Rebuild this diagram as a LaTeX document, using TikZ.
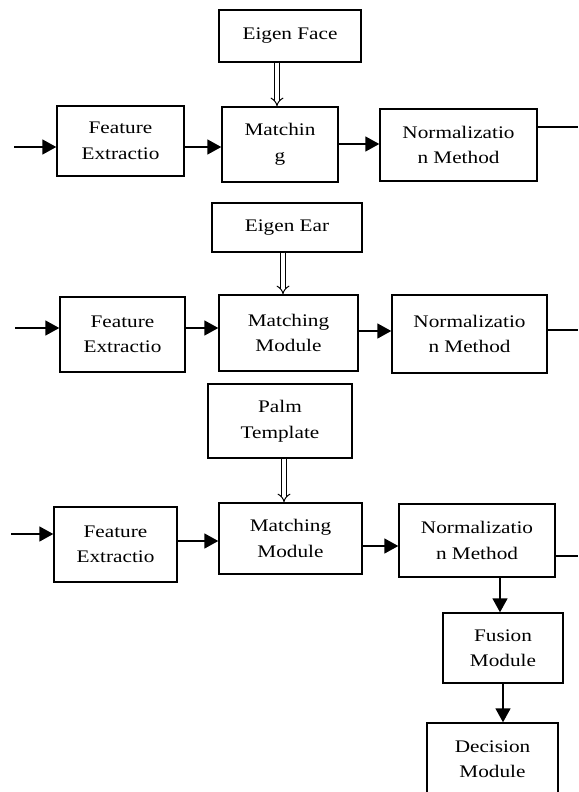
\documentclass[tikz,border=0pt]{standalone}
\usepackage{fontspec}
\setmainfont{Liberation Serif}[FakeStretch=1.2]
\usepackage{tikz}
\usetikzlibrary{arrows.meta}
\tikzstyle{block}=[draw=black, line width=1.4pt, inner sep=0pt, align=center, font=\fontsize{17.7}{25.5}\selectfont]
\tikzstyle{arrow}=[draw=black, line width=1.6pt, >={Triangle[length=14pt, width=15pt]}]
\tikzstyle{dblarrow}=[draw=black, line width=1pt, double=white, double distance=3.5pt, -{Implies}]

\begin{document}
\begin{tikzpicture}[x=1pt, y=-1pt]
		   \useasboundingbox (0,0) rectangle (578,792);
		   \begin{scope}
			   % face
			   \node (ef) at (290, 36)[block, minimum width=142pt, minimum height=52pt] {Eigen Face};
			   \node (fe1) at (120.5, 141)[block, minimum width=127pt, minimum height=70pt] {Feature\\Extractio};
			   \node (m1) at (280, 144.5)[block, minimum width=116pt, minimum height=75pt] {Matchin\\g};
			   \node (n1) at (458.5, 145)[block, minimum width=157pt, minimum height=72pt] {Normalizatio\\n Method};
			   \coordinate (in1) at (14, 147);
			   \coordinate (out1) at (578, 127);
			   % ear
			   \node (ee) at (287, 227.5)[block, minimum width=150pt, minimum height=49pt] {Eigen Ear};
			   \node (fe2) at (122.5, 334.5)[block, minimum width=125pt, minimum height=75pt] {Feature\\Extractio};
			   \node (m2) at (288.5, 333)[block, minimum width=139pt, minimum height=76pt] {Matching\\Module};
			   \node (n2) at (469.5, 334)[block, minimum width=155pt, minimum height=78pt] {Normalizatio\\n Method};
			   \coordinate (in2) at (15, 328);
			   \coordinate (out2) at (578, 330);
			   % palm
			   \node (pt) at (280, 421)[block, minimum width=144pt, minimum height=74pt] {Palm\\Template};
			   \node (fe3) at (115.5, 544.5)[block, minimum width=123pt, minimum height=75pt] {Feature\\Extractio};
			   \node (m3) at (290.5, 538.5)[block, minimum width=143pt, minimum height=71pt] {Matching\\Module};
			   \node (n3) at (477, 540.5)[block, minimum width=156pt, minimum height=73pt] {Normalizatio\\n Method};
			   \coordinate (in3) at (11, 534);
			   \coordinate (out3) at (578, 556);
			   % fusion and decision
			   \node (fu) at (503, 648)[block, minimum width=120pt, minimum height=70pt] {Fusion\\Module};
			   \node (de) at (492.5, 759)[block, minimum width=131pt, minimum height=72pt] {Decision\\Module};
		   \end{scope}
		   \begin{scope}
			   \draw [dblarrow] ([xshift=-13pt]ef.south) -- ([xshift=-13pt]ef.south |- m1.north);
			   \draw [arrow, ->] (in1) -- (fe1.west |- in1);
			   \draw [arrow, ->] ([yshift=-6pt]fe1.east) -- ([yshift=-6pt]fe1.east -| m1.west);
			   \draw [arrow, ->] ([yshift=0.5pt]m1.east) -- ([yshift=0.5pt]m1.east -| n1.west);
			   \draw [arrow] (n1.east |- out1) -- (out1);

			   \draw [dblarrow] ([xshift=-4pt]ee.south) -- ([xshift=-4pt]ee.south |- m2.north);
			   \draw [arrow, ->] (in2) -- (fe2.west |- in2);
			   \draw [arrow, ->] ([yshift=6.5pt]fe2.east) -- ([yshift=6.5pt]fe2.east -| m2.west);
			   \draw [arrow, ->] ([yshift=2pt]m2.east) -- ([yshift=2pt]m2.east -| n2.west);
			   \draw [arrow] (n2.east |- out2) -- (out2);

			   \draw [dblarrow] ([xshift=4pt]pt.south) -- ([xshift=4pt]pt.south |- m3.north);
			   \draw [arrow, ->] (in3) -- (fe3.west |- in3);
			   \draw [arrow, ->] ([yshift=3.5pt]fe3.east) -- ([yshift=3.5pt]fe3.east -| m3.west);
			   \draw [arrow, ->] ([yshift=-7.5pt]m3.east) -- ([yshift=-7.5pt]m3.east -| n3.west);
			   \draw [arrow] (n3.east |- out3) -- (out3);

			   \draw [arrow, ->] ([xshift=23pt]n3.south) -- ([xshift=23pt]n3.south |- fu.north);
			   \draw [arrow, ->] (fu.south) -- (fu.south |- de.north);
		   \end{scope}
	   \end{tikzpicture}
\end{document}
